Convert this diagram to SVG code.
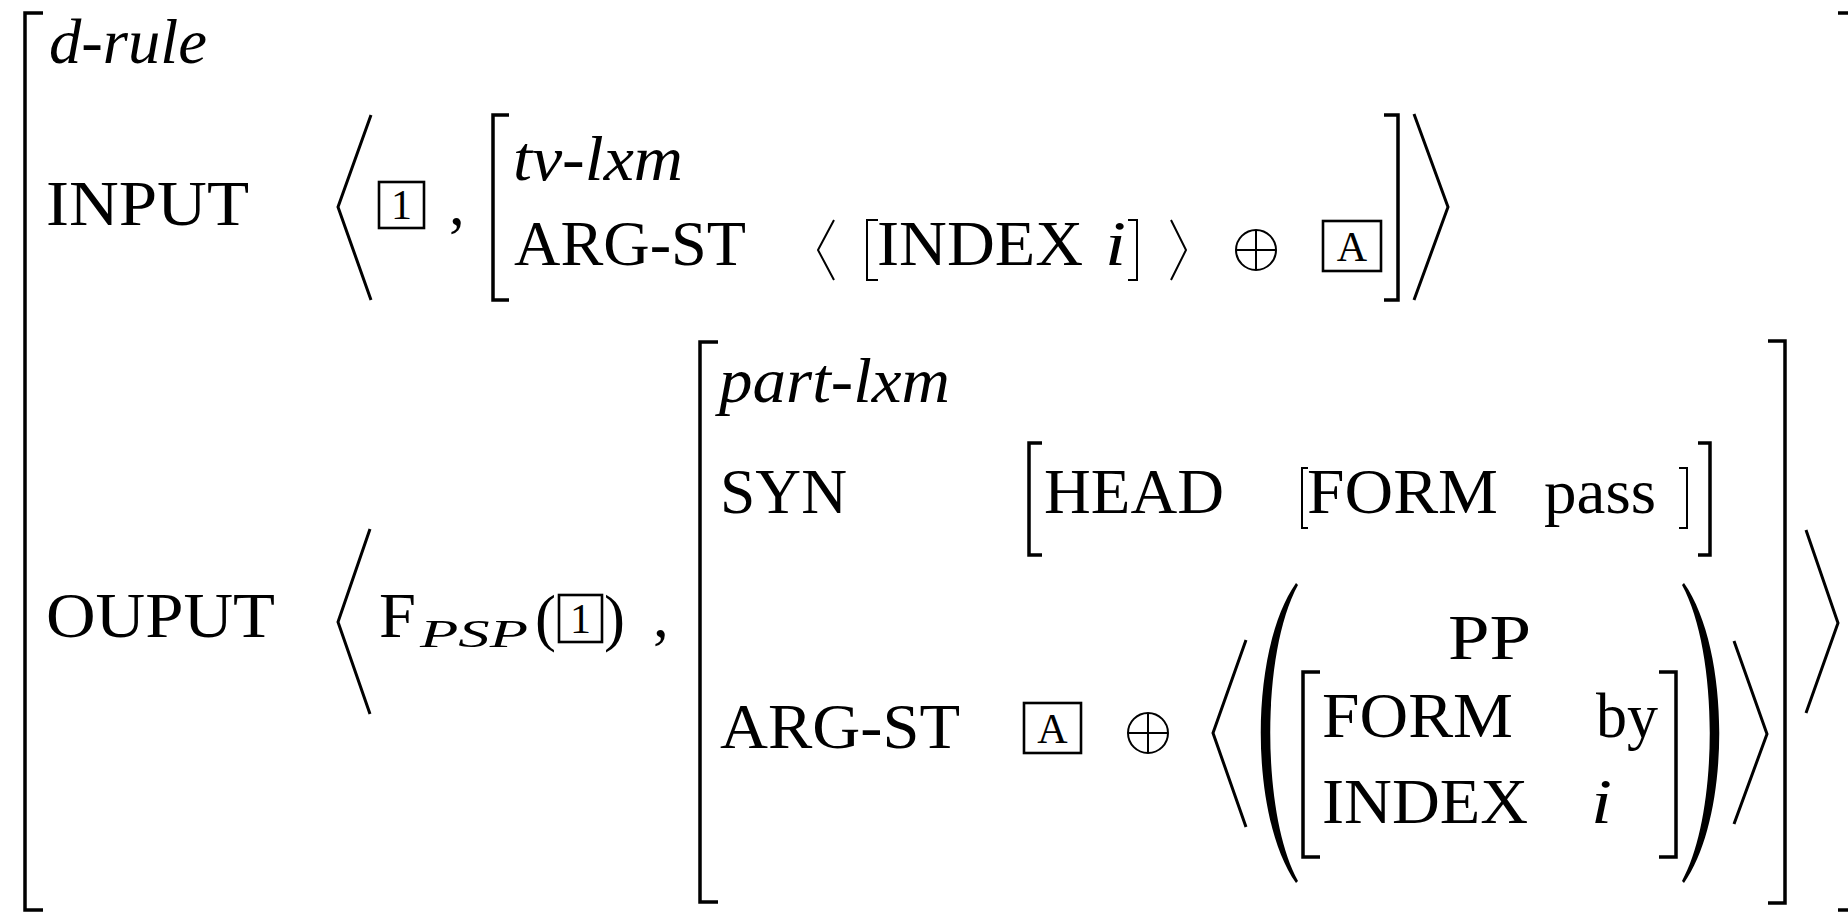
<svg xmlns="http://www.w3.org/2000/svg" width="1848" height="913" viewBox="0 0 1848 913">
<style>
.t{font-family:"Liberation Serif","Times New Roman",serif;font-size:63px;fill:#000}
.i{font-style:italic}
.sm{font-size:40px}
.bx{font-size:42px;text-anchor:middle}
.br{fill:none;stroke:#000;stroke-width:3.5;stroke-linejoin:miter;stroke-linecap:butt}
.ang{fill:none;stroke:#000;stroke-width:3;stroke-linejoin:miter}
.thin{fill:none;stroke:#000;stroke-width:2}
.box{fill:none;stroke:#000;stroke-width:2.6}
</style>
<rect width="1848" height="913" fill="#fff"/>
<g id="outer">
<path class="br" d="M43,13 H25 V910 H43"/>
<path class="br" d="M1838,13 H1852 V910 H1838"/>
<text class="t i" x="49" y="63" textLength="158" lengthAdjust="spacingAndGlyphs">d-rule</text>
</g>
<g id="input">
<text class="t" x="46" y="225" textLength="203" lengthAdjust="spacingAndGlyphs">INPUT</text>
<path class="ang" d="M371,115 L338,207 L371,300"/>
<rect class="box" x="379" y="182" width="45" height="46"/>
<text class="t bx" x="401.5" y="219">1</text>
<text class="t" x="449" y="225">,</text>
<path class="br" d="M509,115 H493 V300 H509"/>
<text class="t i" x="513" y="180" textLength="170" lengthAdjust="spacingAndGlyphs">tv-lxm</text>
<text class="t" x="514" y="265" textLength="232" lengthAdjust="spacingAndGlyphs">ARG-ST</text>
<path class="thin" d="M834,220 L818,250 L834,280"/>
<path class="thin" d="M878,220 H867 V280 H878"/>
<text class="t" x="877" y="265" textLength="206" lengthAdjust="spacingAndGlyphs">INDEX</text>
<text class="t i" x="1105" y="265" textLength="21" lengthAdjust="spacingAndGlyphs">i</text>
<path class="thin" d="M1128,220 H1137 V280 H1128"/>
<path class="thin" d="M1171,220 L1186,250 L1171,280"/>
<g class="thin"><circle cx="1256" cy="250" r="20"/><path d="M1236,250 H1276 M1256,230 V270"/></g>
<rect class="box" x="1323" y="221" width="58" height="50" stroke-width="3.2"/>
<text class="t bx" x="1352" y="261" font-size="44">A</text>
<path class="br" d="M1384,115 H1398 V300 H1384"/>
<path class="ang" d="M1414,114 L1448,207 L1414,300"/>
</g>
<g id="output">
<text class="t" x="46" y="637" textLength="229" lengthAdjust="spacingAndGlyphs">OUPUT</text>
<path class="ang" d="M370,529 L338,622 L370,714"/>
<text class="t" x="379" y="637" textLength="37" lengthAdjust="spacingAndGlyphs">F</text>
<text class="t i sm" x="420" y="647" textLength="108" lengthAdjust="spacingAndGlyphs">PSP</text>
<text class="t" x="535" y="639">(</text>
<rect class="box" x="559" y="595" width="43" height="47" stroke-width="2.2"/>
<text class="t bx" x="580.5" y="633">1</text>
<text class="t" x="604" y="639">)</text>
<text class="t" x="653" y="637">,</text>
</g>
<g id="part-lxm">
<path class="br" d="M718,342 H700 V902 H718"/>
<text class="t i" x="719" y="402" textLength="231" lengthAdjust="spacingAndGlyphs">part-lxm</text>
<text class="t" x="720" y="513" textLength="127" lengthAdjust="spacingAndGlyphs">SYN</text>
<path class="br" d="M1042,443 H1029 V555 H1042" stroke-width="2.6"/>
<text class="t" x="1044" y="513" textLength="180" lengthAdjust="spacingAndGlyphs">HEAD</text>
<path class="thin" d="M1308,468 H1302 V528 H1308"/>
<text class="t" x="1307" y="513" textLength="191" lengthAdjust="spacingAndGlyphs">FORM</text>
<text class="t" x="1544" y="513" textLength="112" lengthAdjust="spacingAndGlyphs">pass</text>
<path class="thin" d="M1679,468 H1687 V528 H1679"/>
<path class="br" d="M1698,443 H1710 V555 H1698" stroke-width="2.6"/>
<text class="t" x="720" y="748" textLength="240" lengthAdjust="spacingAndGlyphs">ARG-ST</text>
<rect class="box" x="1024" y="703" width="57" height="50" stroke-width="3.2"/>
<text class="t bx" x="1052.5" y="743" font-size="44">A</text>
<g class="thin"><circle cx="1148" cy="733" r="20"/><path d="M1128,733 H1168 M1148,713 V753"/></g>
<path class="ang" d="M1246,640 L1213,733 L1246,827"/>
<path d="M1296,583 C1249,650 1249,816 1296,883 L1298,881 C1261,814 1261,652 1298,585 Z" fill="#000"/>
<text class="t" x="1448" y="659" textLength="83" lengthAdjust="spacingAndGlyphs">PP</text>
<path class="br" d="M1320,672 H1303 V857 H1320" stroke-width="3"/>
<text class="t" x="1322" y="737" textLength="191" lengthAdjust="spacingAndGlyphs">FORM</text>
<text class="t" x="1596" y="737" textLength="62" lengthAdjust="spacingAndGlyphs">by</text>
<text class="t" x="1322" y="823" textLength="206" lengthAdjust="spacingAndGlyphs">INDEX</text>
<text class="t i" x="1591" y="823" textLength="21" lengthAdjust="spacingAndGlyphs">i</text>
<path class="br" d="M1659,672 H1676 V857 H1659" stroke-width="3"/>
<path d="M1684,583 C1731,650 1731,816 1684,883 L1682,881 C1719,814 1719,652 1682,585 Z" fill="#000"/>
<path class="ang" d="M1734,641 L1767,734 L1734,824"/>
<path class="br" d="M1768,341 H1785 V903 H1768"/>
<path class="ang" d="M1806,530 L1838,623 L1806,713"/>
</g>
</svg>
